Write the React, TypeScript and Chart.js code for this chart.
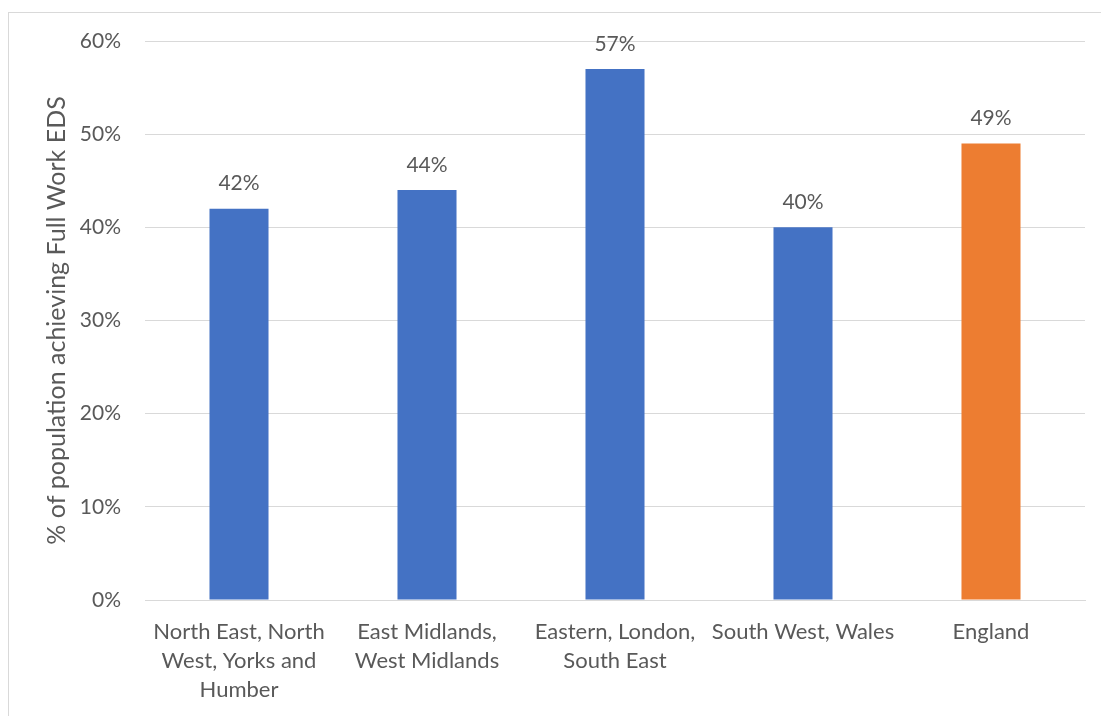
import React, { useEffect, useRef } from "react";
import { Chart, registerables } from "chart.js";

Chart.register(...registerables);

const categories: string[][] = [
  ["North East, North", "West, Yorks and", "Humber"],
  ["East Midlands,", "West Midlands"],
  ["Eastern, London,", "South East"],
  ["South West, Wales"],
  ["England"],
];
const values: number[] = [42, 44, 57, 40, 49];
const barColors: string[] = ["#4472C4", "#4472C4", "#4472C4", "#4472C4", "#ED7D31"];
const yTitle = "% of population achieving Full Work EDS";
const yMax = 60;
const yStep = 10;

const FONT = "Lato, 'Open Sans', sans-serif";
const TEXT = "#595959";

const dataLabelPlugin = {
  id: "dataLabels",
  afterDatasetsDraw(chart: any) {
    const ctx = chart.ctx;
    const meta = chart.getDatasetMeta(0);
    ctx.save();
    ctx.font = `21px ${FONT}`;
    ctx.fillStyle = TEXT;
    ctx.textAlign = "center";
    ctx.textBaseline = "middle";
    meta.data.forEach((el: any, i: number) => {
      ctx.fillText(`${values[i]}%`, el.x, el.y - 25);
    });
    ctx.restore();
  },
};

export default function App() {
  const ref = useRef<HTMLCanvasElement | null>(null);
  useEffect(() => {
    if (!ref.current) return;
    const chart = new Chart(ref.current, {
      type: "bar",
      data: {
        labels: categories as any,
        datasets: [
          {
            data: values,
            backgroundColor: barColors,
            categoryPercentage: 1,
            barPercentage: 0.314,
          },
        ],
      },
      options: {
        responsive: false,
        animation: false,
        layout: { padding: { top: 28, right: 16, left: 0, bottom: 0 } },
        plugins: { legend: { display: false }, tooltip: { enabled: false } },
        scales: {
          x: {
            grid: { display: false, drawTicks: false },
            border: { color: "#d9d9d9", width: 1 },
            ticks: {
              color: TEXT,
              font: { family: FONT, size: 22, lineHeight: 1.32 },
              padding: 17,
              maxRotation: 0,
              autoSkip: false,
            },
            afterFit(scale: any) {
              scale.height = 103;
              scale.paddingLeft = 0;
              scale.paddingRight = 0;
            },
          },
          y: {
            min: 0,
            max: yMax,
            ticks: {
              stepSize: yStep,
              color: TEXT,
              font: { family: FONT, size: 21 },
              padding: 24,
              callback: (v: any) => `${v}%`,
            },
            grid: { color: "#d9d9d9", drawTicks: false, lineWidth: 1 },
            border: { display: false },
            title: {
              display: true,
              text: yTitle,
              color: TEXT,
              font: { family: FONT, size: 25 },
              padding: { top: 33, bottom: 0 },
            },
            afterFit(scale: any) {
              scale.width = 136;
              scale.paddingTop = 0;
              scale.paddingBottom = 0;
            },
          },
        },
      },
      plugins: [dataLabelPlugin],
    });
    return () => chart.destroy();
  }, []);

  return (
    <div
      style={{
        position: "absolute",
        left: 8,
        top: 12,
        width: 1093,
        height: 704,
        borderTop: "1px solid #d9d9d9",
        borderLeft: "1px solid #d9d9d9",
        background: "#fff",
      }}
    >
      <canvas ref={ref} width={1092} height={690} style={{ display: "block" }} />
    </div>
  );
}
